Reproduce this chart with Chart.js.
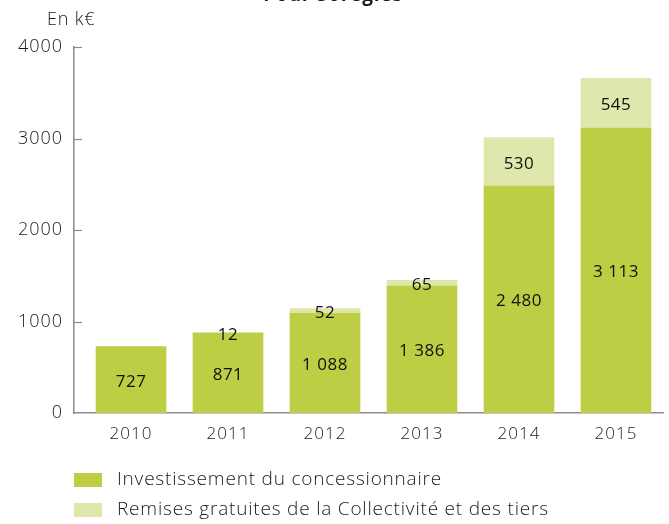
<!DOCTYPE html>
<html>
<head>
<meta charset="utf-8">
<script src="https://cdn.jsdelivr.net/npm/chart.js@4/dist/chart.umd.min.js"></script>
<style>
  html, body { margin: 0; padding: 0; background: #ffffff; }
  #wrap { width: 669px; height: 524px; position: relative; }
</style>
</head>
<body>
<div id="wrap"><canvas id="chart" width="669" height="524"></canvas></div>
<script>
// Investissements annuels (k€)
const years = ['2010', '2011', '2012', '2013', '2014', '2015'];
const concessionnaire = [727, 871, 1088, 1386, 2480, 3113];
const remises = [0, 12, 52, 65, 530, 545];
const yTicks = [0, 1000, 2000, 3000, 4000];
const seriesNames = ['Investissement du concessionnaire', 'Remises gratuites de la Collectivité et des tiers'];
const seriesColors = ['#bdcd44', '#dfe7ad'];

const FONT = '"Open Sans", "Noto Sans", sans-serif';
const AXIS_GREY = '#8c8c8c';
const TEXT = '#1a1a1a';
const SPACING = '1px';

const fmt = v => String(v).replace(/\B(?=(\d{3})+(?!\d))/g, '\u00a0');

// Slightly open letter spacing for all canvas text
const spacing = {
  id: 'spacing',
  beforeDraw(chart) { chart.ctx.letterSpacing = SPACING; }
};

// Short inward tick marks on the value axis
const innerTicks = {
  id: 'innerTicks',
  afterDraw(chart) {
    const { ctx, scales: { y }, chartArea } = chart;
    ctx.save();
    ctx.strokeStyle = AXIS_GREY;
    ctx.lineWidth = 1.2;
    yTicks.forEach(v => {
      if (v === 0) return;
      const py = Math.round(y.getPixelForValue(v)) + 0.5;
      ctx.beginPath();
      ctx.moveTo(chartArea.left, py);
      ctx.lineTo(chartArea.left + 8, py);
      ctx.stroke();
    });
    ctx.restore();
  }
};

// Values written in the middle of each bar segment
const segmentLabels = {
  id: 'segmentLabels',
  afterDatasetsDraw(chart) {
    const { ctx } = chart;
    ctx.save();
    ctx.letterSpacing = '0.5px';
    ctx.font = '400 17px ' + FONT;
    ctx.fillStyle = '#111111';
    ctx.textAlign = 'center';
    ctx.textBaseline = 'middle';
    chart.data.datasets.forEach((ds, di) => {
      const meta = chart.getDatasetMeta(di);
      meta.data.forEach((bar, i) => {
        const v = ds.data[i].y;
        if (!v) return;
        const cy = (bar.y + bar.base) / 2 + 2;
        ctx.fillText(fmt(v), bar.x, cy);
      });
    });
    ctx.restore();
  }
};

// Unit caption, title and stacked legend
const decorations = {
  id: 'decorations',
  afterDraw(chart) {
    const { ctx, chartArea } = chart;
    ctx.save();
    ctx.letterSpacing = '0.8px';
    ctx.fillStyle = TEXT;
    ctx.textBaseline = 'alphabetic';
    ctx.font = 'bold 19px ' + FONT;
    ctx.textAlign = 'center';
    ctx.fillText('Pour Sorégies', 333, 1);
    ctx.font = '300 18px ' + FONT;
    ctx.textAlign = 'left';
    ctx.fillText('En k€', 47, 25);

    ctx.font = '300 19px ' + FONT;
    ctx.textBaseline = 'middle';
    seriesNames.forEach((name, i) => {
      const top = 473 + i * 30;
      ctx.fillStyle = seriesColors[i];
      ctx.fillRect(chartArea.left, top, 28, 14);
      ctx.fillStyle = TEXT;
      ctx.fillText(name, 117, top + 7);
    });
    ctx.restore();
  }
};

const toPoints = arr => arr.map((v, i) => ({ x: i, y: v }));

new Chart(document.getElementById('chart'), {
  type: 'bar',
  data: {
    datasets: [
      { label: seriesNames[0], data: toPoints(concessionnaire), backgroundColor: seriesColors[0], barThickness: 70 },
      { label: seriesNames[1], data: toPoints(remises), backgroundColor: seriesColors[1], barThickness: 70 }
    ]
  },
  options: {
    responsive: false,
    animation: false,
    layout: { padding: { left: 0, right: 6, top: 47, bottom: 71 } },
    plugins: {
      legend: { display: false },
      tooltip: { enabled: false },
      title: { display: false }
    },
    scales: {
      x: {
        type: 'linear',
        stacked: true,
        min: -0.588,
        max: 5.485,
        offset: false,
        grid: { display: false, drawTicks: false },
        border: { display: true, color: AXIS_GREY, width: 1.5 },
        afterBuildTicks(scale) { scale.ticks = years.map((_, i) => ({ value: i })); },
        afterFit(scale) { scale.height = 40; },
        ticks: {
          padding: 11,
          color: TEXT,
          font: { family: FONT, size: 17, weight: '300' },
          callback: v => years[v]
        }
      },
      y: {
        stacked: true,
        min: 0,
        max: 4000,
        grid: { display: false, drawTicks: false },
        border: { display: true, color: AXIS_GREY, width: 1.5 },
        afterBuildTicks(scale) { scale.ticks = yTicks.map(v => ({ value: v })); },
        afterFit(scale) { scale.width = 74; },
        ticks: {
          padding: 11,
          color: TEXT,
          font: { family: FONT, size: 18, weight: '300' },
          callback: v => String(v)
        }
      }
    }
  },
  plugins: [spacing, innerTicks, segmentLabels, decorations]
});
</script>
</body>
</html>
